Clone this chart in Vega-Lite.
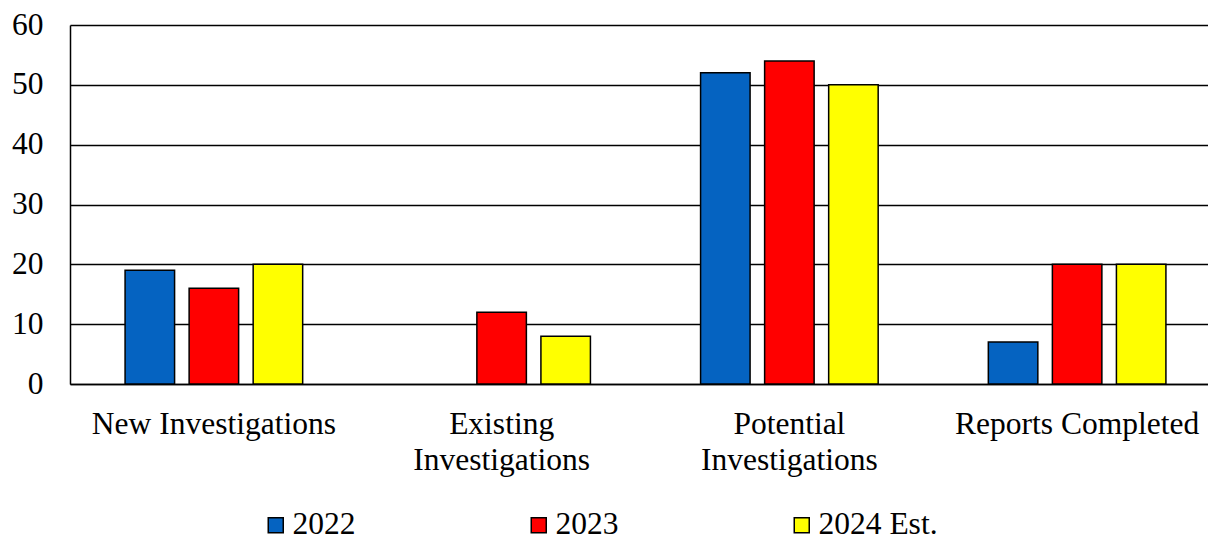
{
  "$schema": "https://vega.github.io/schema/vega-lite/v6.json",
  "autosize": {"type": "none"},
  "width": 1138,
  "height": 359,
  "padding": {"left": 70, "top": 25, "right": 0, "bottom": 153},
  "background": "white",
  "config": {
    "font": "Times New Roman, Liberation Serif, serif",
    "view": {"stroke": null},
    "axis": {
      "labelFont": "Times New Roman, Liberation Serif, serif",
      "labelFontSize": 31.5,
      "labelColor": "black",
      "domainColor": "black",
      "domainWidth": 1.5,
      "ticks": false
    },
    "legend": {
      "labelFont": "Times New Roman, Liberation Serif, serif",
      "labelFontSize": 31.5,
      "labelColor": "black"
    }
  },
  "data": {
    "values": [
      {"category": "New Investigations", "year": "2022", "value": 19},
      {"category": "New Investigations", "year": "2023", "value": 16},
      {"category": "New Investigations", "year": "2024 Est.", "value": 20},
      {"category": "Existing Investigations", "year": "2023", "value": 12},
      {"category": "Existing Investigations", "year": "2024 Est.", "value": 8},
      {"category": "Potential Investigations", "year": "2022", "value": 52},
      {"category": "Potential Investigations", "year": "2023", "value": 54},
      {"category": "Potential Investigations", "year": "2024 Est.", "value": 50},
      {"category": "Reports Completed", "year": "2022", "value": 7},
      {"category": "Reports Completed", "year": "2023", "value": 20},
      {"category": "Reports Completed", "year": "2024 Est.", "value": 20}
    ]
  },
  "mark": {"type": "bar", "stroke": "black", "strokeWidth": 1.5},
  "encoding": {
    "x": {
      "field": "category",
      "type": "nominal",
      "sort": ["New Investigations", "Existing Investigations", "Potential Investigations", "Reports Completed"],
      "scale": {"paddingInner": 0, "paddingOuter": 0, "range": [0, 1151]},
      "axis": {
        "title": null,
        "labelAngle": 0,
        "labelPadding": 24,
        "labelLineHeight": 36,
        "labelLimit": 400,
        "domain": true,
        "labelExpr": "datum.value == 'Existing Investigations' || datum.value == 'Potential Investigations' ? split(datum.value, ' ') : datum.value"
      }
    },
    "xOffset": {
      "field": "year",
      "type": "nominal",
      "sort": ["2022", "2023", "2024 Est."],
      "scale": {"paddingInner": 0.227, "paddingOuter": 0.86}
    },
    "y": {
      "field": "value",
      "type": "quantitative",
      "scale": {"domain": [0, 60], "nice": false},
      "axis": {
        "title": null,
        "values": [0, 10, 20, 30, 40, 50, 60],
        "grid": true,
        "gridColor": "black",
        "gridWidth": 1.5,
        "gridOpacity": 1,
        "labelPadding": 27,
        "domain": true
      }
    },
    "fill": {
      "field": "year",
      "type": "nominal",
      "sort": ["2022", "2023", "2024 Est."],
      "scale": {"domain": ["2022", "2023", "2024 Est."], "range": ["#0563C1", "#FF0000", "#FFFF00"]},
      "legend": {
        "title": null,
        "orient": "none",
        "direction": "horizontal",
        "legendX": 190,
        "legendY": 484,
        "padding": 0,
        "columns": 3,
        "gridAlign": "all",
        "columnPadding": 111,
        "symbolType": "square",
        "symbolSize": 225,
        "symbolStrokeColor": "black",
        "symbolStrokeWidth": 1.5,
        "symbolOpacity": 1,
        "labelOffset": 1,
        "labelLimit": 300
      }
    }
  }
}
